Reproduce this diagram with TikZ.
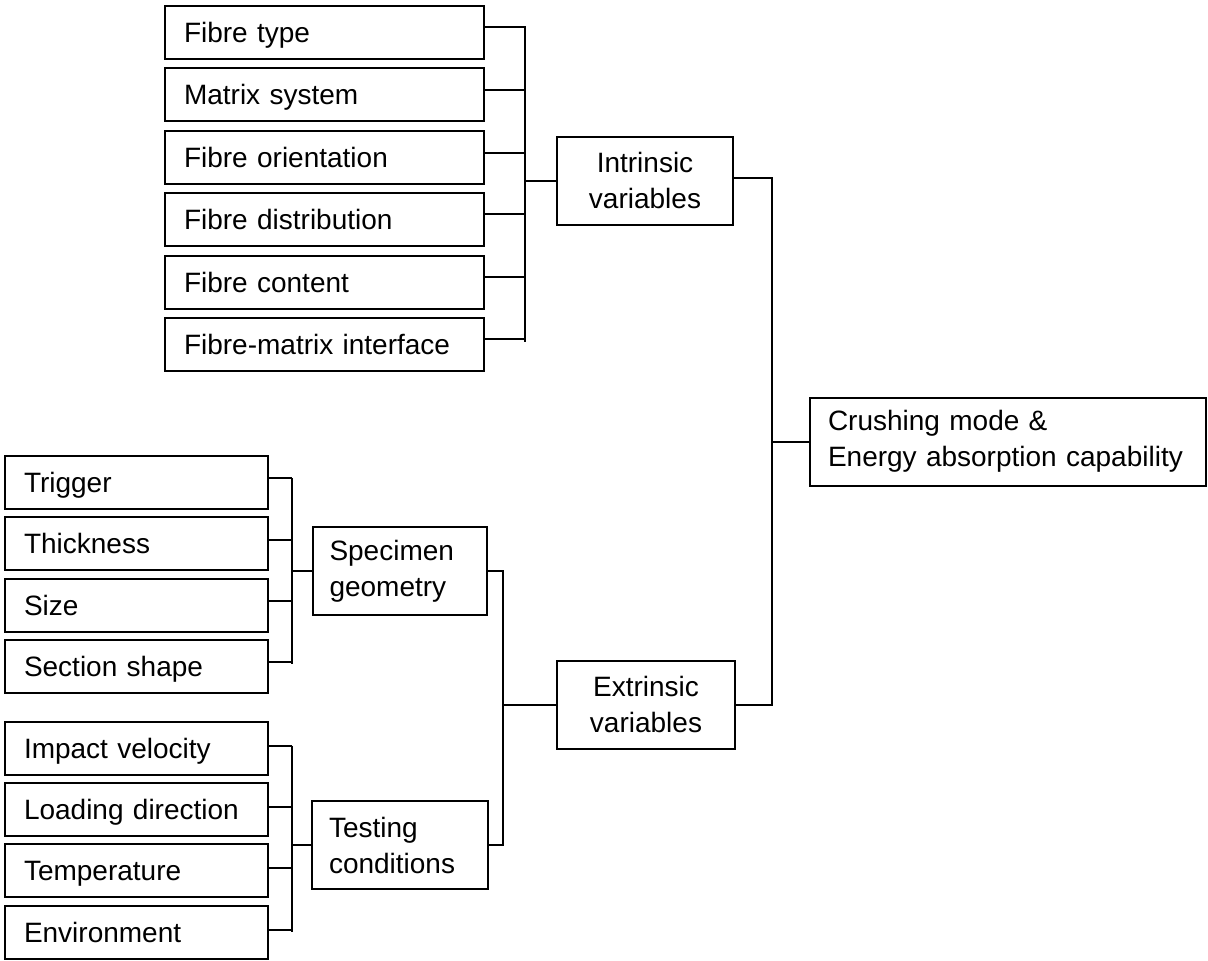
\documentclass[tikz,border=0pt]{standalone}
\usepackage{fontspec}
\setmainfont{Liberation Sans}
\begin{document}
\begin{tikzpicture}[x=1pt,y=-1pt,
  every node/.style={font=\fontsize{28}{36}\selectfont},
  leaf/.style={draw, line width=2pt, inner xsep=19pt, inner ysep=0pt, align=left,
    text height=26pt, text depth=6pt},
  leafA/.style={leaf, text width=281pt, minimum height=53pt},
  leafB/.style={leaf, text width=225pt, minimum height=53pt},
  midbox/.style={draw, line width=2pt, inner sep=0pt, minimum height=88pt},
  link/.style={line width=2pt}]
\useasboundingbox (0,0) rectangle (1208,961);

% top group
\node[leafA] (ft)  at (324.5,32)   {Fibre type};
\node[leafA] (ms)  at (324.5,94.5) {Matrix system};
\node[leafA] (fo)  at (324.5,157.5){Fibre orientation};
\node[leafA] (fd)  at (324.5,219)  {Fibre distribution};
\node[leafA] (fc)  at (324.5,282)  {Fibre content};
\node[leafA] (fmi) at (324.5,344)  {Fibre-matrix interface};

\node[midbox, minimum width=176pt, align=center] (iv) at (645,180.5) {Intrinsic\\variables};

% specimen group
\node[leafB] (tr) at (136.5,482)   {Trigger};
\node[leafB] (th) at (136.5,543.5) {Thickness};
\node[leafB] (sz) at (136.5,605)   {Size};
\node[leafB] (ss) at (136.5,666)   {Section shape};

\node[midbox, text width=140pt, inner xsep=17pt, align=left] (sg) at (399.5,571) {Specimen\\geometry};

% testing group
\node[leafB] (iv2) at (136.5,748.5) {Impact velocity};
\node[leafB] (ld)  at (136.5,809.5) {Loading direction};
\node[leafB] (tp)  at (136.5,870.5) {Temperature};
\node[leafB] (en)  at (136.5,932.5) {Environment};

\node[midbox, text width=142pt, inner xsep=17pt, align=left] (tc) at (400,845) {Testing\\conditions};

\node[midbox, minimum width=178pt, align=center] (ev) at (646,704.5) {Extrinsic\\variables};

\node[midbox, text width=360pt, inner xsep=18pt, align=left] (cm) at (1008,441.5) {Crushing mode \&\\Energy absorption capability};

% bracket coordinates
\coordinate (b1) at (525,0);
\coordinate (b2) at (292,0);
\coordinate (b3) at (292,0);
\coordinate (b4) at (503,0);
\coordinate (b5) at (772,0);

% top bracket
\foreach \n in {ft,ms,fo,fd,fc,fmi}
  \draw[link] ([yshift=5pt]\n.east) -- ([yshift=5pt]\n.east -| b1);
\draw[link] ([yshift=6pt]ft.east -| b1) -- ([yshift=2pt]fmi.east -| b1);
\draw[link] (iv.west) -- (iv.west -| b1);

% specimen bracket
\foreach \n in {tr,th,sz,ss}
  \draw[link] ([yshift=4pt]\n.east) -- ([yshift=4pt]\n.east -| b2);
\draw[link] ([yshift=4pt]tr.east -| b2) -- ([yshift=2pt]ss.east -| b2);
\draw[link] (sg.west) -- (sg.west -| b2);

% testing bracket
\foreach \n in {iv2,ld,tp,en}
  \draw[link] ([yshift=3pt]\n.east) -- ([yshift=3pt]\n.east -| b3);
\draw[link] ([yshift=3pt]iv2.east -| b3) -- ([yshift=1pt]en.east -| b3);
\draw[link] (tc.west) -- (tc.west -| b3);

% extrinsic bracket
\draw[link] (sg.east) -- (sg.east -| b4) -- (tc.east -| b4) -- (tc.east);
\draw[link] (ev.west) -- (ev.west -| b4);

% main bracket
\draw[link] ([yshift=3pt]iv.east) -- ([yshift=3pt]iv.east -| b5) -- (ev.east -| b5) -- (ev.east);
\draw[link] (cm.west) -- (cm.west -| b5);
\end{tikzpicture}
\end{document}
